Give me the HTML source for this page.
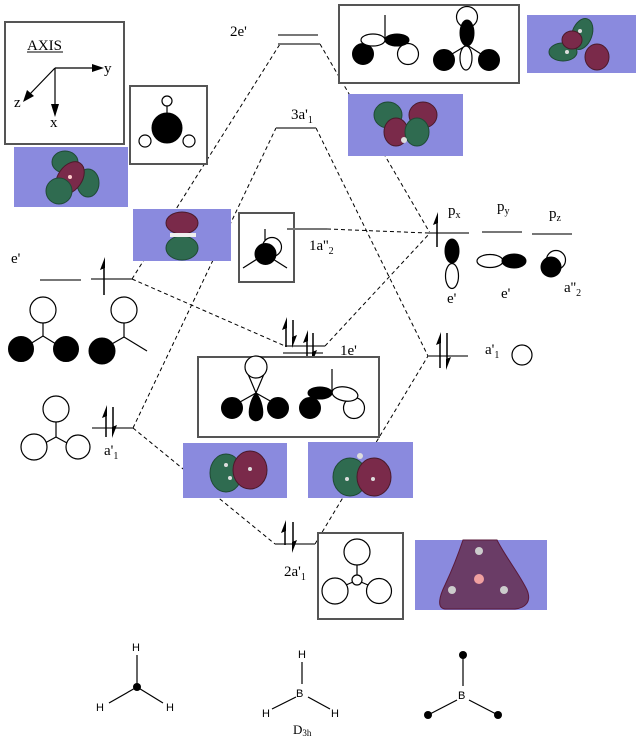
<!DOCTYPE html>
<html><head><meta charset="utf-8"><style>
html,body{margin:0;padding:0;background:#fff}
svg{display:block}
text{font-family:"Liberation Serif",serif;font-size:15px;fill:#000}
.s{font-family:"Liberation Sans",sans-serif;font-size:11px}
.lv{stroke:#777;stroke-width:2;fill:none}
.d{stroke:#000;stroke-width:1;stroke-dasharray:4,3;fill:none}
.bx{stroke:#555;stroke-width:2;fill:#fff}
.w{fill:#fff;stroke:#000;stroke-width:1.2}
.b{fill:#000;stroke:#000;stroke-width:1}
.ln{stroke:#000;stroke-width:1.2;fill:none}
.bg{fill:#8a8ade}
.g{fill:#2f6b50;stroke:#1f4a35;stroke-width:1}
.r{fill:#7a2a4a;stroke:#4a1a2a;stroke-width:1}
</style></head><body>
<svg width="639" height="747" viewBox="0 0 639 747" xmlns="http://www.w3.org/2000/svg">
<!-- dashed connectors -->
<line class="d" x1="132" y1="279" x2="280" y2="44"/>
<line class="d" x1="320" y1="44" x2="430" y2="233"/>
<line class="d" x1="133" y1="428" x2="276" y2="128"/>
<line class="d" x1="316" y1="128" x2="428" y2="356"/>
<line class="d" x1="132" y1="279" x2="285" y2="346"/>
<line class="d" x1="325" y1="346" x2="430" y2="233"/>
<line class="d" x1="327" y1="229" x2="428" y2="233"/>
<line class="d" x1="133" y1="428" x2="275" y2="544"/>
<line class="d" x1="315" y1="544" x2="428" y2="356"/>

<!-- AXIS box -->
<rect class="bx" x="5" y="22" width="119" height="122"/>
<text x="27" y="50">AXIS</text>
<line x1="27" y1="52" x2="63" y2="52" stroke="#000" stroke-width="1"/>
<line class="ln" x1="55" y1="68" x2="94" y2="68" stroke="#555"/>
<polygon points="92,64 104,68 92,72" fill="#000"/>
<text x="104" y="73">y</text>
<line class="ln" x1="55" y1="68" x2="29" y2="95"/>
<polygon points="23,102 27,90 34,96" fill="#000"/>
<text x="14" y="107">z</text>
<line class="ln" x1="55" y1="68" x2="55" y2="106"/>
<polygon points="51,104 55,117 59,104" fill="#000"/>
<text x="50" y="127">x</text>

<!-- molecule box -->
<rect class="bx" x="130" y="86" width="77" height="78"/>
<line class="ln" x1="167" y1="106" x2="167" y2="120"/>
<circle class="w" cx="167" cy="101" r="5"/>
<circle class="w" cx="145" cy="141" r="6"/>
<circle class="w" cx="189" cy="141" r="6"/>
<circle class="b" cx="167" cy="128" r="15"/>

<!-- image 1 -->
<rect class="bg" x="14" y="147" width="114" height="60"/>
<ellipse class="g" cx="65" cy="162" rx="13" ry="11"/>
<ellipse class="g" cx="88" cy="183" rx="11" ry="14"/>
<ellipse class="r" cx="70" cy="178" rx="12" ry="18" transform="rotate(35 70 178)"/>
<ellipse class="g" cx="59" cy="191" rx="13" ry="13"/>
<circle cx="70" cy="177" r="2" fill="#fcc"/>

<!-- 2e' levels -->
<text x="230" y="36">2e'</text>
<line class="lv" x1="278" y1="35" x2="318" y2="35"/>
<line class="lv" x1="278" y1="44" x2="320" y2="44"/>

<!-- 3a'1 -->
<text x="291" y="119">3a'<tspan font-size="10" dy="4">1</tspan></text>
<line class="lv" x1="276" y1="128" x2="316" y2="128"/>

<!-- top right box -->
<rect class="bx" x="339" y="5" width="180" height="78"/>
<line class="ln" x1="385" y1="15" x2="385" y2="42"/>
<circle class="b" cx="363" cy="54" r="10.5"/>
<circle class="w" cx="408" cy="54" r="10.5"/>
<ellipse class="w" cx="373" cy="40" rx="12" ry="6"/>
<ellipse class="b" cx="397" cy="40" rx="12" ry="6"/>
<circle class="w" cx="467" cy="17" r="10.5"/>
<line class="ln" x1="467" y1="45" x2="452" y2="54"/>
<line class="ln" x1="467" y1="45" x2="481" y2="54"/>
<ellipse class="w" cx="466" cy="58" rx="6" ry="12"/>
<ellipse class="b" cx="467" cy="33" rx="7" ry="13"/>
<circle class="b" cx="444" cy="60" r="10.5"/>
<circle class="b" cx="489" cy="60" r="10.5"/>

<!-- image top right -->
<rect class="bg" x="527" y="15" width="109" height="58"/>
<ellipse class="g" cx="582" cy="34" rx="10" ry="16" transform="rotate(20 582 34)"/>
<ellipse class="g" cx="563" cy="52" rx="14" ry="9"/>
<ellipse class="r" cx="572" cy="40" rx="10" ry="9"/>
<ellipse class="r" cx="597" cy="57" rx="12" ry="13"/>
<circle cx="580" cy="31" r="2" fill="#ddd"/>
<circle cx="567" cy="52" r="2" fill="#ddd"/>

<!-- image middle right -->
<rect class="bg" x="348" y="94" width="115" height="62"/>
<ellipse class="g" cx="388" cy="115" rx="14" ry="13"/>
<ellipse class="r" cx="423" cy="115" rx="14" ry="13"/>
<ellipse class="r" cx="396" cy="132" rx="12" ry="14"/>
<ellipse class="g" cx="417" cy="132" rx="12" ry="14"/>
<circle cx="404" cy="140" r="3" fill="#ddd"/>

<!-- image pz orbital -->
<rect class="bg" x="133" y="209" width="98" height="52"/>
<ellipse class="r" cx="182" cy="223" rx="16" ry="11"/>
<ellipse class="g" cx="182" cy="248" rx="16" ry="12"/>
<rect x="170" y="233" width="26" height="4" fill="#eee"/>

<!-- 1a''2 box -->
<rect class="bx" x="239" y="213" width="55" height="69"/>
<line class="ln" x1="265" y1="229" x2="265" y2="250"/>
<circle class="w" cx="272" cy="247" r="9.5"/>
<line class="ln" x1="265" y1="254" x2="243" y2="268"/>
<line class="ln" x1="265" y1="254" x2="287" y2="268"/>
<circle class="b" cx="265.5" cy="254" r="10.5"/>
<line class="lv" x1="287" y1="229" x2="327" y2="229"/>
<text x="309" y="250">1a''<tspan font-size="10" dy="4">2</tspan></text>

<!-- left e' -->
<text x="11" y="263">e'</text>
<line class="lv" x1="40" y1="280" x2="81" y2="280"/>
<line class="lv" x1="91" y1="279" x2="132" y2="279"/>
<line x1="104" y1="262" x2="104" y2="295" stroke="#000" stroke-width="1.5"/>
<polygon points="105,257 100,270 105,268" fill="#000"/>

<!-- left e' figures -->
<line class="ln" x1="43" y1="323" x2="43" y2="336"/>
<line class="ln" x1="43" y1="336" x2="30" y2="344"/>
<line class="ln" x1="43" y1="336" x2="56" y2="344"/>
<circle class="w" cx="43" cy="310" r="13"/>
<circle class="b" cx="21" cy="349" r="12.5"/>
<circle class="b" cx="66" cy="349" r="12.5"/>
<line class="ln" x1="124" y1="323" x2="124" y2="337"/>
<line class="ln" x1="124" y1="337" x2="110" y2="345"/>
<line class="ln" x1="124" y1="337" x2="147" y2="351"/>
<circle class="w" cx="124" cy="310" r="13"/>
<circle class="b" cx="102" cy="351" r="13"/>

<!-- right p levels -->
<line class="lv" x1="428" y1="233" x2="469" y2="233"/>
<line class="lv" x1="482" y1="232" x2="522" y2="232"/>
<line class="lv" x1="532" y1="234" x2="572" y2="234"/>
<line x1="437" y1="217" x2="437" y2="247" stroke="#000" stroke-width="1.5"/>
<polygon points="438,212 433,225 438,223" fill="#000"/>
<text x="448" y="215">p<tspan font-size="10" dy="3">x</tspan></text>
<text x="497" y="211">p<tspan font-size="10" dy="3">y</tspan></text>
<text x="549" y="218">p<tspan font-size="10" dy="3">z</tspan></text>
<ellipse class="w" cx="452" cy="276" rx="6.5" ry="12.5"/>
<ellipse class="b" cx="452" cy="251" rx="7" ry="12"/>
<ellipse class="w" cx="490" cy="261" rx="13" ry="6.5"/>
<ellipse class="b" cx="514" cy="261" rx="12" ry="7"/>
<circle class="w" cx="556" cy="260" r="9.5"/>
<circle class="b" cx="551" cy="267" r="10"/>
<text x="447" y="303">e'</text>
<text x="501" y="298">e'</text>
<text x="564" y="292">a''<tspan font-size="10" dy="4">2</tspan></text>

<!-- 1e' levels -->
<line class="lv" x1="285" y1="346" x2="325" y2="346"/>
<line class="lv" x1="283" y1="353" x2="323" y2="353"/>
<text x="340" y="355">1e'</text>
<line x1="286" y1="322" x2="286" y2="347" stroke="#000" stroke-width="1.5"/>
<polygon points="287,317 282,330 287,328" fill="#000"/>
<line x1="293" y1="320" x2="293" y2="343" stroke="#000" stroke-width="1.5"/>
<polygon points="292,348 297,335 292,337" fill="#000"/>
<line x1="307" y1="335" x2="307" y2="357" stroke="#000" stroke-width="1.5"/>
<polygon points="308,330 303,343 308,341" fill="#000"/>
<line x1="313" y1="333" x2="313" y2="358" stroke="#000" stroke-width="1.5"/>
<polygon points="312,363 317,350 312,352" fill="#000"/>

<!-- right a'1 -->
<line class="lv" x1="428" y1="356" x2="468" y2="356"/>
<line x1="440" y1="337" x2="440" y2="368" stroke="#000" stroke-width="1.5"/>
<polygon points="441,332 436,345 441,343" fill="#000"/>
<line x1="447" y1="333" x2="447" y2="365" stroke="#000" stroke-width="1.5"/>
<polygon points="446,370 451,357 446,359" fill="#000"/>
<text x="485" y="354">a'<tspan font-size="10" dy="4">1</tspan></text>
<circle class="w" cx="522" cy="355" r="10"/>

<!-- 1e' box -->
<rect class="bx" x="198" y="357" width="181" height="80"/>
<path class="w" d="M256,393 L248,374 L264,374 Z"/>
<circle class="w" cx="256" cy="367" r="11"/>
<line class="ln" x1="256" y1="393" x2="240" y2="402"/>
<line class="ln" x1="256" y1="393" x2="272" y2="402"/>
<path class="b" d="M256,393 C250,400 248,412 250,417 C253,422 259,422 262,417 C264,412 262,400 256,393 Z"/>
<circle class="b" cx="232" cy="408" r="10.5"/>
<circle class="b" cx="278" cy="408" r="10.5"/>
<line class="ln" x1="332" y1="369" x2="332" y2="393"/>
<circle class="w" cx="354" cy="408" r="10.5"/>
<ellipse class="w" cx="345" cy="394" rx="13" ry="7" transform="rotate(10 345 394)"/>
<ellipse class="b" cx="320" cy="393" rx="12" ry="6"/>
<circle class="b" cx="310" cy="408" r="10.5"/>

<!-- left a'1 -->
<line class="ln" x1="56" y1="422" x2="56" y2="437"/>
<line class="ln" x1="56" y1="437" x2="45" y2="443"/>
<line class="ln" x1="56" y1="437" x2="67" y2="443"/>
<circle class="w" cx="56" cy="409" r="13"/>
<circle class="w" cx="34" cy="447" r="13"/>
<circle class="w" cx="78" cy="447" r="12"/>
<line class="lv" x1="92" y1="428" x2="133" y2="428"/>
<line x1="106" y1="410" x2="106" y2="437" stroke="#000" stroke-width="1.5"/>
<polygon points="107,405 102,418 107,416" fill="#000"/>
<line x1="113" y1="407" x2="113" y2="433" stroke="#000" stroke-width="1.5"/>
<polygon points="112,438 117,425 112,427" fill="#000"/>
<text x="104" y="455">a'<tspan font-size="10" dy="4">1</tspan></text>

<!-- bottom images of 1e' -->
<rect class="bg" x="183" y="443" width="104" height="55"/>
<ellipse class="g" cx="226" cy="473" rx="16" ry="19"/>
<ellipse class="r" cx="250" cy="470" rx="17" ry="19"/>
<circle cx="226" cy="465" r="2" fill="#ddd"/>
<circle cx="230" cy="478" r="2" fill="#ddd"/>
<circle cx="250" cy="469" r="2" fill="#ddd"/>
<rect class="bg" x="308" y="442" width="105" height="56"/>
<ellipse class="g" cx="350" cy="477" rx="17" ry="19"/>
<ellipse class="r" cx="374" cy="477" rx="17" ry="19"/>
<circle cx="360" cy="456" r="3" fill="#ddd"/>
<circle cx="347" cy="479" r="2" fill="#ddd"/>
<circle cx="373" cy="479" r="2" fill="#ddd"/>

<!-- 2a'1 -->
<line class="lv" x1="275" y1="544" x2="315" y2="544"/>
<line x1="285" y1="525" x2="285" y2="545" stroke="#000" stroke-width="1.5"/>
<polygon points="286,520 281,533 286,531" fill="#000"/>
<line x1="293" y1="522" x2="293" y2="548" stroke="#000" stroke-width="1.5"/>
<polygon points="292,553 297,540 292,542" fill="#000"/>
<text x="284" y="576">2a'<tspan font-size="10" dy="4">1</tspan></text>

<!-- bottom box -->
<rect class="bx" x="318" y="533" width="85" height="86"/>
<line class="ln" x1="357" y1="565" x2="357" y2="575"/>
<line class="ln" x1="353" y1="582" x2="346" y2="585"/>
<line class="ln" x1="361" y1="582" x2="368" y2="585"/>
<circle class="w" cx="357" cy="552" r="13"/>
<circle class="w" cx="335" cy="591" r="13"/>
<circle class="w" cx="379" cy="591" r="12.5"/>
<circle class="w" cx="357" cy="580" r="5"/>

<!-- bottom image -->
<rect class="bg" x="415" y="540" width="132" height="70"/>
<path d="M463,540 L497,540 C505,556 520,575 527,590 C532,602 525,608 515,609 L445,609 C436,608 440,595 445,585 C452,570 458,555 463,540 Z" fill="#6a3c66" stroke="#5a1a3a" stroke-width="1"/>
<circle cx="479" cy="551" r="4" fill="#ccc"/>
<circle cx="479" cy="579" r="5" fill="#f0a0a0"/>
<circle cx="452" cy="590" r="4" fill="#ccc"/>
<circle cx="504" cy="590" r="4" fill="#ccc"/>

<!-- bottom molecules -->
<text class="s" x="132" y="651">H</text>
<line class="ln" x1="137" y1="655" x2="137" y2="687" stroke-width="1"/>
<line class="ln" x1="137" y1="687" x2="109" y2="703" stroke-width="1"/>
<line class="ln" x1="137" y1="687" x2="163" y2="703" stroke-width="1"/>
<circle cx="137" cy="687" r="4" fill="#000"/>
<text class="s" x="96" y="711">H</text>
<text class="s" x="166" y="711">H</text>

<text class="s" x="298" y="658">H</text>
<line class="ln" x1="302" y1="662" x2="302" y2="684" stroke-width="1"/>
<text class="s" x="296" y="697">B</text>
<line class="ln" x1="296" y1="697" x2="272" y2="709" stroke-width="1"/>
<line class="ln" x1="308" y1="697" x2="330" y2="709" stroke-width="1"/>
<text class="s" x="262" y="717">H</text>
<text class="s" x="331" y="717">H</text>
<text x="293" y="734" style="font-size:13px">D<tspan font-size="9" dy="2">3h</tspan></text>

<circle cx="463" cy="655" r="4" fill="#000"/>
<line class="ln" x1="463" y1="655" x2="463" y2="686" stroke-width="1"/>
<text class="s" x="458" y="699">B</text>
<line class="ln" x1="457" y1="700" x2="428" y2="715" stroke-width="1"/>
<line class="ln" x1="469" y1="700" x2="498" y2="715" stroke-width="1"/>
<circle cx="428" cy="715" r="4" fill="#000"/>
<circle cx="498" cy="715" r="4" fill="#000"/>
</svg>
</body></html>
